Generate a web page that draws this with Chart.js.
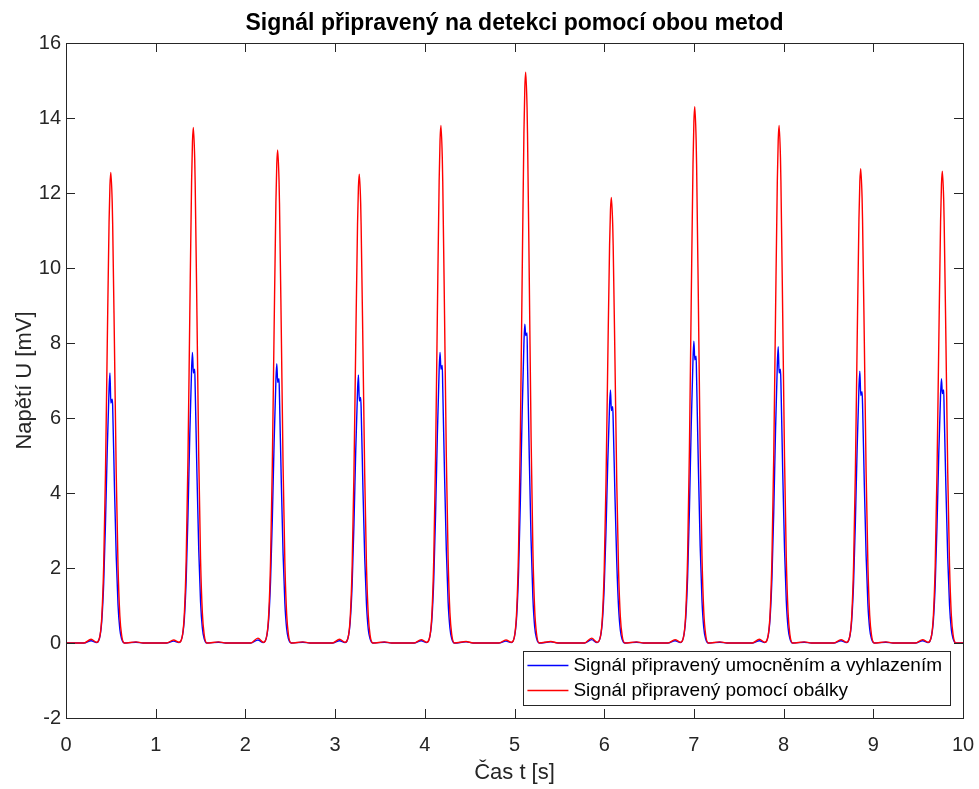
<!DOCTYPE html>
<html>
<head>
<meta charset="utf-8">
<script src="https://cdn.jsdelivr.net/npm/chart.js@4/dist/chart.umd.min.js"></script>
<style>
  html, body { margin: 0; padding: 0; background: #fff; }
  #wrap { width: 979px; height: 789px; }
</style>
</head>
<body>
<div id="wrap"><canvas id="signalChart" width="979" height="789"></canvas></div>
<script>
// sample times [s], one row per heart beat
const beatTimes = [
    [0.00],
    [0.20, 0.28, 0.34, 0.38, 0.40, 0.42, 0.44, 0.46, 0.48, 0.49, 0.50, 0.515, 0.52, 0.54, 0.56, 0.58, 0.60, 0.62, 0.65, 0.78, 0.86],
    [1.12, 1.20, 1.26, 1.30, 1.32, 1.34, 1.36, 1.38, 1.40, 1.41, 1.42, 1.435, 1.44, 1.46, 1.48, 1.50, 1.52, 1.54, 1.57, 1.70, 1.78],
    [2.06, 2.14, 2.20, 2.24, 2.26, 2.28, 2.30, 2.32, 2.34, 2.35, 2.36, 2.375, 2.38, 2.40, 2.42, 2.44, 2.46, 2.48, 2.51, 2.64, 2.72],
    [2.97, 3.05, 3.11, 3.15, 3.17, 3.19, 3.21, 3.23, 3.25, 3.26, 3.27, 3.285, 3.29, 3.31, 3.33, 3.35, 3.37, 3.39, 3.42, 3.55, 3.63],
    [3.88, 3.96, 4.02, 4.06, 4.08, 4.10, 4.12, 4.14, 4.16, 4.17, 4.18, 4.195, 4.20, 4.22, 4.24, 4.26, 4.28, 4.30, 4.33, 4.46, 4.54],
    [4.825, 4.905, 4.965, 5.005, 5.025, 5.045, 5.065, 5.085, 5.105, 5.115, 5.125, 5.14, 5.145, 5.165, 5.185, 5.205, 5.225, 5.245, 5.275, 5.405, 5.485],
    [5.78, 5.86, 5.92, 5.96, 5.98, 6.00, 6.02, 6.04, 6.06, 6.07, 6.08, 6.095, 6.10, 6.12, 6.14, 6.16, 6.18, 6.20, 6.23, 6.36, 6.44],
    [6.71, 6.79, 6.85, 6.89, 6.91, 6.93, 6.95, 6.97, 6.99, 7.00, 7.01, 7.025, 7.03, 7.05, 7.07, 7.09, 7.11, 7.13, 7.16, 7.29, 7.37],
    [7.65, 7.73, 7.79, 7.83, 7.85, 7.87, 7.89, 7.91, 7.93, 7.94, 7.95, 7.965, 7.97, 7.99, 8.01, 8.03, 8.05, 8.07, 8.10, 8.23, 8.31],
    [8.56, 8.64, 8.70, 8.74, 8.76, 8.78, 8.80, 8.82, 8.84, 8.85, 8.86, 8.875, 8.88, 8.90, 8.92, 8.94, 8.96, 8.98, 9.01, 9.14, 9.22],
    [9.47, 9.55, 9.61, 9.65, 9.67, 9.69, 9.71, 9.73, 9.75, 9.76, 9.77, 9.785, 9.79, 9.81, 9.83, 9.85, 9.87, 9.89, 9.92, 10.00]
];

// signal after squaring + smoothing [mV]
const squaredSmoothed = [
    [0],
    [0, 0.06, 0.01, 0.20, 0.63, 1.58, 3.18, 5.17, 6.77, 7.20, 6.40, 6.50, 6.34, 4.18, 2.30, 1.02, 0.37, 0.11, 0, 0.02, 0],
    [0, 0.05, 0.01, 0.22, 0.67, 1.70, 3.42, 5.56, 7.29, 7.75, 7.20, 7.30, 6.82, 4.50, 2.48, 1.10, 0.40, 0.12, 0, 0.02, 0],
    [0, 0.08, 0.01, 0.21, 0.65, 1.63, 3.29, 5.35, 7.00, 7.45, 6.95, 7.05, 6.56, 4.32, 2.38, 1.06, 0.38, 0.11, 0, 0.02, 0],
    [0, 0.06, 0.01, 0.20, 0.62, 1.57, 3.15, 5.13, 6.72, 7.15, 6.45, 6.55, 6.29, 4.15, 2.29, 1.02, 0.36, 0.11, 0, 0.02, 0],
    [0, 0.06, 0.01, 0.22, 0.67, 1.70, 3.42, 5.56, 7.29, 7.75, 7.30, 7.40, 6.82, 4.50, 2.48, 1.10, 0.40, 0.12, 0, 0.03, 0],
    [0, 0.05, 0.01, 0.24, 0.74, 1.86, 3.75, 6.10, 7.99, 8.50, 8.20, 8.27, 7.48, 4.93, 2.72, 1.21, 0.43, 0.13, 0, 0.03, 0],
    [0, 0.09, 0.01, 0.19, 0.59, 1.48, 2.98, 4.85, 6.35, 6.75, 6.20, 6.30, 5.94, 3.92, 2.16, 0.96, 0.34, 0.10, 0, 0.02, 0],
    [0, 0.06, 0.01, 0.23, 0.70, 1.76, 3.55, 5.78, 7.57, 8.05, 7.55, 7.65, 7.08, 4.67, 2.58, 1.14, 0.41, 0.12, 0, 0.02, 0],
    [0, 0.06, 0.01, 0.22, 0.69, 1.73, 3.48, 5.67, 7.43, 7.90, 7.20, 7.30, 6.95, 4.58, 2.53, 1.12, 0.40, 0.12, 0, 0.02, 0],
    [0, 0.06, 0.01, 0.20, 0.63, 1.59, 3.20, 5.21, 6.82, 7.25, 6.60, 6.70, 6.38, 4.21, 2.32, 1.03, 0.37, 0.11, 0, 0.02, 0],
    [0, 0.06, 0.01, 0.20, 0.61, 1.54, 3.11, 5.06, 6.63, 7.05, 6.65, 6.75, 6.20, 4.09, 2.26, 1.00, 0.36, 0.11, 0, 0]
];

// envelope signal [mV]
const envelope = [
    [0],
    [0, 0.10, 0.02, 0.21, 0.74, 2.05, 4.52, 7.97, 11.21, 12.20, 12.55, 11.77, 11.21, 7.97, 4.52, 2.05, 0.74, 0.21, 0, 0.03, 0],
    [0, 0.08, 0.02, 0.23, 0.81, 2.24, 4.95, 8.73, 12.28, 13.37, 13.75, 12.90, 12.28, 8.73, 4.95, 2.24, 0.81, 0.23, 0, 0.03, 0],
    [0, 0.13, 0.02, 0.22, 0.77, 2.14, 4.73, 8.35, 11.74, 12.78, 13.15, 12.33, 11.74, 8.35, 4.73, 2.14, 0.77, 0.22, 0, 0.03, 0],
    [0, 0.10, 0.02, 0.21, 0.74, 2.04, 4.50, 7.94, 11.16, 12.15, 12.50, 11.73, 11.16, 7.94, 4.50, 2.04, 0.74, 0.21, 0, 0.03, 0],
    [0, 0.09, 0.02, 0.23, 0.81, 2.25, 4.97, 8.76, 12.32, 13.41, 13.80, 12.94, 12.32, 8.76, 4.97, 2.25, 0.81, 0.23, 0, 0.04, 0],
    [0, 0.08, 0.02, 0.26, 0.89, 2.48, 5.48, 9.66, 13.59, 14.79, 15.22, 14.28, 13.59, 9.66, 5.48, 2.48, 0.89, 0.26, 0, 0.04, 0],
    [0, 0.13, 0.02, 0.20, 0.70, 1.94, 4.28, 7.54, 10.61, 11.55, 11.88, 11.14, 10.61, 7.54, 4.28, 1.94, 0.70, 0.20, 0, 0.03, 0],
    [0, 0.09, 0.02, 0.24, 0.84, 2.33, 5.15, 9.08, 12.77, 13.90, 14.30, 13.41, 12.77, 9.08, 5.15, 2.33, 0.84, 0.24, 0, 0.03, 0],
    [0, 0.10, 0.02, 0.23, 0.81, 2.25, 4.97, 8.76, 12.32, 13.41, 13.80, 12.94, 12.32, 8.76, 4.97, 2.25, 0.81, 0.23, 0, 0.03, 0],
    [0, 0.09, 0.02, 0.21, 0.74, 2.06, 4.55, 8.03, 11.30, 12.30, 12.65, 11.87, 11.30, 8.03, 4.55, 2.06, 0.74, 0.21, 0, 0.03, 0],
    [0, 0.09, 0.02, 0.21, 0.74, 2.05, 4.53, 7.99, 11.23, 12.23, 12.58, 11.80, 11.23, 7.99, 4.53, 2.05, 0.74, 0.21, 0, 0]
];

const xTicks = [0, 1, 2, 3, 4, 5, 6, 7, 8, 9, 10];
const yTicks = [-2, 0, 2, 4, 6, 8, 10, 12, 14, 16];

const titleText = 'Signál připravený na detekci pomocí obou metod';
const xLabel = 'Čas t [s]';
const yLabel = 'Napětí U [mV]';
const legendLabels = ['Signál připravený umocněním a vyhlazením', 'Signál připravený pomocí obálky'];

const FONT = '"Liberation Sans", Arial, Helvetica, sans-serif';
const AXIS_COLOR = '#262626';

function toPoints(times, values) {
    const t = times.flat();
    const v = values.flat();
    return t.map((x, i) => ({ x: x, y: v[i] }));
}

// box around the axes with inward ticks on all four sides (MATLAB look)
const frameTicks = {
    id: 'frameTicks',
    afterDatasetsDraw(chart) {
        const { ctx, chartArea: a, scales } = chart;
        const len = 9;
        ctx.save();
        ctx.strokeStyle = AXIS_COLOR;
        ctx.lineWidth = 1;
        ctx.beginPath();
        xTicks.forEach(v => {
            const x = Math.round(scales.x.getPixelForValue(v)) + 0.5;
            ctx.moveTo(x, a.bottom); ctx.lineTo(x, a.bottom - len);
            ctx.moveTo(x, a.top); ctx.lineTo(x, a.top + len);
        });
        yTicks.forEach(v => {
            const y = Math.round(scales.y.getPixelForValue(v)) + 0.5;
            ctx.moveTo(a.left, y); ctx.lineTo(a.left + len, y);
            ctx.moveTo(a.right, y); ctx.lineTo(a.right - len, y);
        });
        ctx.stroke();
        ctx.strokeRect(Math.round(a.left) + 0.5, Math.round(a.top) + 0.5,
            Math.round(a.right - a.left), Math.round(a.bottom - a.top));

        // title
        ctx.fillStyle = '#000';
        ctx.font = 'bold 23px ' + FONT;
        ctx.textAlign = 'center';
        ctx.textBaseline = 'middle';
        ctx.fillText(titleText, (a.left + a.right) / 2, 24);

        // legend box in the lower right corner
        const colors = ['#0000ff', '#ff0000'];
        ctx.font = '19px ' + FONT;
        const textW = Math.max(...legendLabels.map(s => ctx.measureText(s).width));
        const boxR = a.right - 13, boxB = a.bottom - 13;
        const boxW = textW + 58, boxH = 54;
        const boxL = boxR - boxW, boxT = boxB - boxH;
        ctx.fillStyle = '#fff';
        ctx.fillRect(boxL, boxT, boxW, boxH);
        ctx.strokeStyle = AXIS_COLOR;
        ctx.strokeRect(Math.round(boxL) + 0.5, Math.round(boxT) + 0.5, Math.round(boxW), Math.round(boxH));
        ctx.textAlign = 'left';
        ctx.lineWidth = 1.3;
        legendLabels.forEach((s, i) => {
            const y = Math.round(boxT + 14 + i * 25) + 0.5;
            ctx.strokeStyle = colors[i];
            ctx.beginPath();
            ctx.moveTo(boxL + 4, y); ctx.lineTo(boxL + 45, y);
            ctx.stroke();
            ctx.fillStyle = '#000';
            ctx.fillText(s, boxL + 50, y);
        });
        ctx.restore();
    }
};

new Chart(document.getElementById('signalChart'), {
    type: 'line',
    data: {
        datasets: [
            {
                label: legendLabels[0],
                data: toPoints(beatTimes, squaredSmoothed),
                borderColor: '#0000ff',
                borderWidth: 1.4,
                pointRadius: 0,
                cubicInterpolationMode: 'monotone',
                order: 1
            },
            {
                label: legendLabels[1],
                data: toPoints(beatTimes, envelope),
                borderColor: '#ff0000',
                borderWidth: 1.4,
                pointRadius: 0,
                cubicInterpolationMode: 'monotone',
                order: 0
            }
        ]
    },
    options: {
        responsive: false,
        animation: false,
        layout: { padding: { top: 43, right: 16, left: 0, bottom: 0 } },
        plugins: {
            legend: { display: false },
            tooltip: { enabled: false },
            title: { display: false }
        },
        scales: {
            x: {
                type: 'linear',
                min: 0,
                max: 10,
                afterFit(scale) {
                    scale.height = 71;
                    scale.paddingLeft = 0;
                    scale.paddingRight = 0;
                },
                afterBuildTicks(scale) { scale.ticks = xTicks.map(v => ({ value: v })); },
                grid: { display: false, drawTicks: false },
                border: { display: false },
                ticks: { color: AXIS_COLOR, font: { family: FONT, size: 20 }, padding: 15, maxRotation: 0 },
                title: { display: true, text: xLabel, color: AXIS_COLOR, font: { family: FONT, size: 22 }, padding: { top: 0, bottom: 3 } }
            },
            y: {
                min: -2,
                max: 16,
                afterFit(scale) {
                    scale.width = 66;
                    scale.paddingTop = 0;
                    scale.paddingBottom = 0;
                },
                afterBuildTicks(scale) { scale.ticks = yTicks.map(v => ({ value: v })); },
                grid: { display: false, drawTicks: false },
                border: { display: false },
                ticks: { color: AXIS_COLOR, font: { family: FONT, size: 20 }, padding: 5 },
                title: { display: true, text: yLabel, color: AXIS_COLOR, font: { family: FONT, size: 22 }, padding: { top: 12, bottom: 0 } }
            }
        }
    },
    plugins: [frameTicks]
});
</script>
</body>
</html>
